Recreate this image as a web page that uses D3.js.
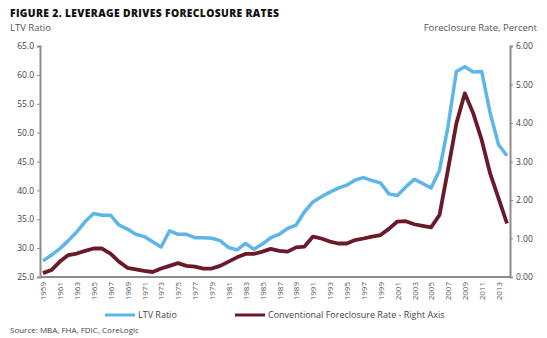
<!DOCTYPE html>
<html>
<head>
<meta charset="utf-8">
<script src="https://cdn.jsdelivr.net/npm/d3@7"></script>
<style>
  body { margin: 0; background: #fff; }
  text { font-family: "Open Sans", "DejaVu Sans", sans-serif; }
</style>
</head>
<body>
<div id="chart-area"></div>
<script>
// years 1959..2014, one value per year
var years = d3.range(1959, 2015);

var ltvRatio = [27.8, 28.8, 29.9, 31.3, 32.8, 34.6, 36.0, 35.7, 35.7, 34.0,
  33.3, 32.4, 32.0, 31.1, 30.2, 33.0, 32.4, 32.4, 31.8, 31.8,
  31.7, 31.3, 30.1, 29.7, 30.8, 29.8, 30.7, 31.8, 32.4, 33.4,
  34.0, 36.3, 38.0, 38.9, 39.7, 40.4, 40.9, 41.8, 42.2, 41.7,
  41.3, 39.4, 39.1, 40.6, 41.9, 41.2, 40.4, 43.5, 51.0, 60.6,
  61.4, 60.5, 60.6, 53.4, 47.9, 46.0];

var foreclosureRate = [0.10, 0.18, 0.40, 0.57, 0.61, 0.68, 0.74, 0.74, 0.61, 0.40,
  0.24, 0.20, 0.16, 0.13, 0.22, 0.29, 0.36, 0.29, 0.27, 0.22,
  0.22, 0.29, 0.40, 0.51, 0.60, 0.60, 0.66, 0.73, 0.68, 0.66,
  0.77, 0.79, 1.05, 1.00, 0.92, 0.87, 0.87, 0.96, 1.00, 1.05,
  1.09, 1.25, 1.44, 1.45, 1.37, 1.33, 1.29, 1.61, 2.78, 3.99,
  4.77, 4.25, 3.56, 2.69, 2.04, 1.39];

var leftTicks = [25, 30, 35, 40, 45, 50, 55, 60, 65];
var rightTicks = [0, 1, 2, 3, 4, 5, 6];
var yearLabels = d3.range(1959, 2014, 2);

var blue = "#5db5e8";
var maroon = "#6b1a2a";
var axisGrey = "#8c8c8c";
var labelColor = "#3d3d55";

var svg = d3.select("#chart-area").append("svg")
    .attr("width", 547)
    .attr("height", 338);

var x = d3.scaleLinear().domain([1959, 2014]).range([43, 507]);
var yL = d3.scaleLinear().domain([25, 65]).range([277, 46]);
var yR = d3.scaleLinear().domain([0, 6]).range([277, 46]);

// titles
svg.append("text")
    .attr("x", 10).attr("y", 17)
    .attr("font-size", 10.3).attr("font-weight", 800)
    .attr("letter-spacing", 0.35)
    .attr("fill", "#111")
    .text("FIGURE 2. LEVERAGE DRIVES FORECLOSURE RATES");

svg.append("text")
    .attr("x", 10).attr("y", 31)
    .attr("font-size", 9.5).attr("fill", "#555")
    .text("LTV Ratio");

svg.append("text")
    .attr("x", 537).attr("y", 31)
    .attr("text-anchor", "end")
    .attr("font-size", 9.5).attr("fill", "#555")
    .text("Foreclosure Rate, Percent");

// axes
var leftAxis = svg.append("g")
    .attr("transform", "translate(40,0)")
    .call(d3.axisLeft(yL).tickValues(leftTicks).tickSize(3).tickPadding(3)
      .tickFormat(d3.format(".1f")));

var rightAxis = svg.append("g")
    .attr("transform", "translate(510,0)")
    .call(d3.axisRight(yR).tickValues(rightTicks).tickSize(3).tickPadding(3)
      .tickFormat(d3.format(".2f")));

var bottomAxis = svg.append("g")
    .attr("transform", "translate(0,277)")
    .call(d3.axisBottom(x).tickValues(yearLabels).tickSize(0).tickPadding(0)
      .tickFormat(d3.format("d")));

bottomAxis.select(".domain").attr("d", "M40,0H510");

bottomAxis.selectAll("text")
    .attr("transform", "rotate(-90)")
    .attr("text-anchor", "end")
    .attr("x", -5).attr("y", 0).attr("dy", "0.35em");

[leftAxis, rightAxis, bottomAxis].forEach(function(g) {
  g.select(".domain").attr("stroke", axisGrey).attr("stroke-width", 2);
  g.selectAll(".tick line").attr("stroke", axisGrey);
  g.selectAll("text")
    .attr("font-family", "'Open Sans', sans-serif")
    .attr("font-size", 8.5)
    .attr("fill", labelColor);
});
bottomAxis.selectAll("text").attr("font-size", 8).attr("fill", "#555");

// lines
var ltvLine = d3.line()
    .x(function(d, i) { return x(years[i]); })
    .y(function(d) { return yL(d); });

var rateLine = d3.line()
    .x(function(d, i) { return x(years[i]); })
    .y(function(d) { return yR(d); });

svg.append("path")
    .datum(ltvRatio)
    .attr("fill", "none")
    .attr("stroke", blue)
    .attr("stroke-width", 3.5)
    .attr("stroke-linejoin", "round")
    .attr("d", ltvLine);

svg.append("path")
    .datum(foreclosureRate)
    .attr("fill", "none")
    .attr("stroke", maroon)
    .attr("stroke-width", 3.8)
    .attr("stroke-linejoin", "round")
    .attr("d", rateLine);

// legend
var legendItems = [
  { label: "LTV Ratio", color: blue, x: 105 },
  { label: "Conventional Foreclosure Rate - Right Axis", color: maroon, x: 235 }
];

var legend = svg.selectAll(".legend")
    .data(legendItems)
    .enter().append("g")
    .attr("class", "legend")
    .attr("transform", function(d) { return "translate(" + d.x + ",315)"; });

legend.append("line")
    .attr("x1", 0).attr("x2", 30)
    .attr("stroke", function(d) { return d.color; })
    .attr("stroke-width", 3);

legend.append("text")
    .attr("x", 33).attr("dy", "0.35em")
    .attr("font-size", 9).attr("fill", "#444")
    .text(function(d) { return d.label; });

svg.append("text")
    .attr("x", 10).attr("y", 333)
    .attr("font-size", 8).attr("fill", "#444")
    .text("Source: MBA, FHA, FDIC, CoreLogic");
</script>
</body>
</html>
